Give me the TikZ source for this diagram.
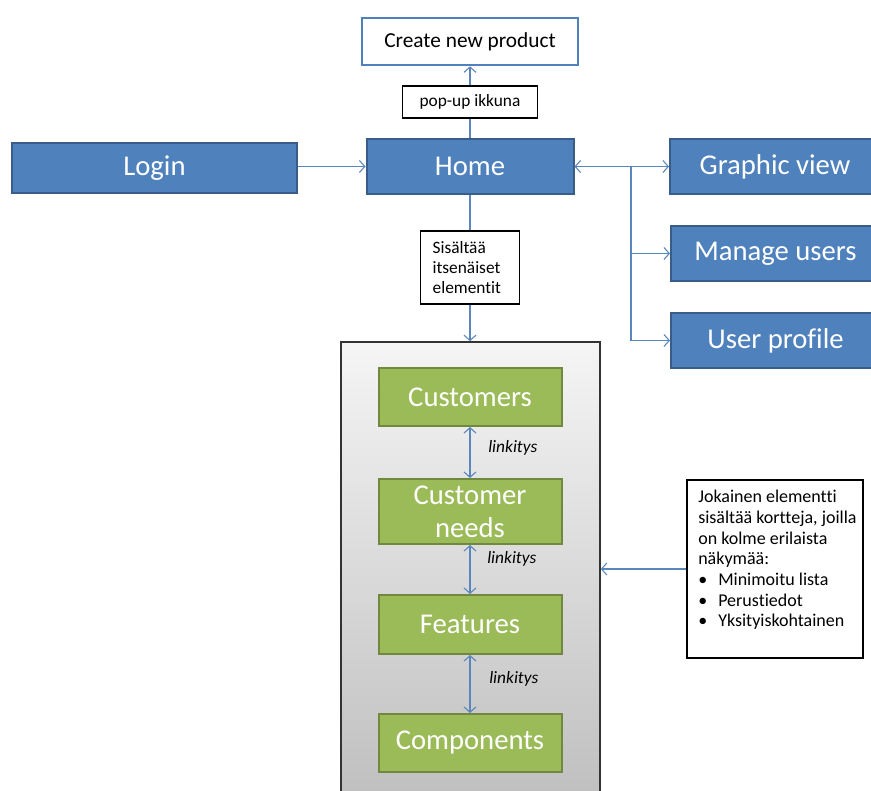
\documentclass[tikz,border=0pt]{standalone}
\usepackage{fontspec}
\setmainfont{Carlito}[Ligatures={NoCommon}]
\usetikzlibrary{arrows.meta}
\definecolor{boxblue}{HTML}{4F81BD}
\definecolor{boxblueline}{HTML}{385D8A}
\definecolor{boxgreen}{HTML}{9BBB59}
\definecolor{boxgreenline}{HTML}{71893F}
\definecolor{linkblue}{HTML}{5A86BE}
\tikzset{
  bigfont/.style={font=\fontsize{21.5}{24.75}\selectfont},
  smallfont/.style={font=\fontsize{13}{15.2}\selectfont},
  bluebox/.style={draw=boxblueline, fill=boxblue, line width=1.5pt, text=white,
    bigfont, inner sep=0pt},
  greenbox/.style={draw=boxgreenline, fill=boxgreen, line width=1.5pt, text=white,
    bigfont, align=center, inner sep=0pt, minimum width=137.25pt},
  notebox/.style={draw=black, fill=white, line width=0.8pt, smallfont, inner sep=0pt},
  link/.style={draw=linkblue, line width=1pt},
  tip/.style={-{Straight Barb[length=4pt,width=9pt,line width=0.8pt]}},
  twotip/.style={{Straight Barb[length=4pt,width=9pt,line width=0.8pt]}-{Straight Barb[length=4pt,width=9pt,line width=0.8pt]}},
  linklabel/.style={font=\fontsize{13}{15}\selectfont\itshape, anchor=west, inner sep=0pt}
}
\begin{document}
\begin{tikzpicture}[x=0.75pt, y=-0.75pt]
  \useasboundingbox (0,0) rectangle (871,791);

  % container holding the element boxes
  \node[draw=black!80, line width=1.2pt, top color=gray!8, bottom color=gray!50,
        minimum width=194.25pt, minimum height=343.5pt, inner sep=0pt]
        (cont) at (470.5,571) {};

  % top row
  \node[draw=boxblue, fill=white, line width=2pt, minimum width=162pt, minimum height=35.25pt,
        inner sep=0pt, font=\fontsize{16}{19}\selectfont] (create) at (470,41.5) {Create new product};
  \node[notebox, minimum width=101.25pt, minimum height=24pt] (popup) at (470,102) {pop-up ikkuna};

  \node[bluebox, minimum width=213.75pt, minimum height=37.5pt] (login) at (154.5,168) {Login};
  \node[bluebox, minimum width=155.25pt, minimum height=41.25pt] (home) at (470,166.5) {Home};
  \node[bluebox, minimum width=157.5pt, minimum height=41.25pt] (graphic) at (775,166.5) {Graphic view};
  \node[bluebox, minimum width=156.75pt, minimum height=41.25pt] (manage) at (775.5,253.5) {Manage users};
  \node[bluebox, minimum width=156.75pt, minimum height=41.25pt] (profile) at (775.5,340.5) {User profile};

  \node[notebox, minimum width=74.25pt, minimum height=54.75pt, text width=56pt, align=left]
        (incl) at (470,267.5) {Sisältää\\itsenäiset\\elementit};

  % element boxes
  \node[greenbox, minimum height=43.5pt] (cust) at (470,397) {Customers};
  \node[greenbox, minimum height=48.75pt] (needs) at (470,511.5) {Customer\\needs};
  \node[greenbox, minimum height=44.25pt] (feat) at (470,624.5) {Features};
  \node[greenbox, minimum height=43.5pt] (comp) at (470,743) {Components};

  % note on the right
  \node[draw=black, fill=white, line width=0.8pt, minimum width=132pt, minimum height=133.5pt,
        inner sep=0pt] (info) at (775,569) {};
  \node[anchor=north west, align=left, inner sep=0pt, font=\fontsize{13.5}{15.5}\selectfont]
        (infotext) at (698,490) {Jokainen elementti\\sisältää kortteja, joilla\\on kolme erilaista\\näkymää:\\
        \makebox[15pt][l]{•}Minimoitu lista\\\makebox[15pt][l]{•}Perustiedot\\\makebox[15pt][l]{•}Yksityiskohtainen};

  % connectors
  \draw[link] (home.north) -- (popup.south);
  \draw[link, tip] (popup.north) -- (create.south);
  \draw[link, tip] (login.east |- home.west) -- (home.west);
  \draw[link, twotip] (home.east) -- (graphic.west);
  \coordinate (branch) at (631,166.5);
  \draw[link, tip] (branch) |- (manage.west);
  \draw[link, tip] (branch) |- (profile.west);
  \draw[link] (home.south) -- (incl.north);
  \draw[link, tip] (incl.south) -- (incl.south |- cont.north);
  \draw[link, twotip] (cust.south) -- (needs.north);
  \draw[link, twotip] (needs.south) -- (feat.north);
  \draw[link, twotip] (feat.south) -- (comp.north);
  \draw[link, tip] (info.west) -- (info.west -| cont.east);

  % link labels
  \node[linklabel] (l1) at (488,448) {linkitys};
  \node[linklabel] (l2) at (487,559) {linkitys};
  \node[linklabel] (l3) at (489,679) {linkitys};
\end{tikzpicture}
\end{document}
